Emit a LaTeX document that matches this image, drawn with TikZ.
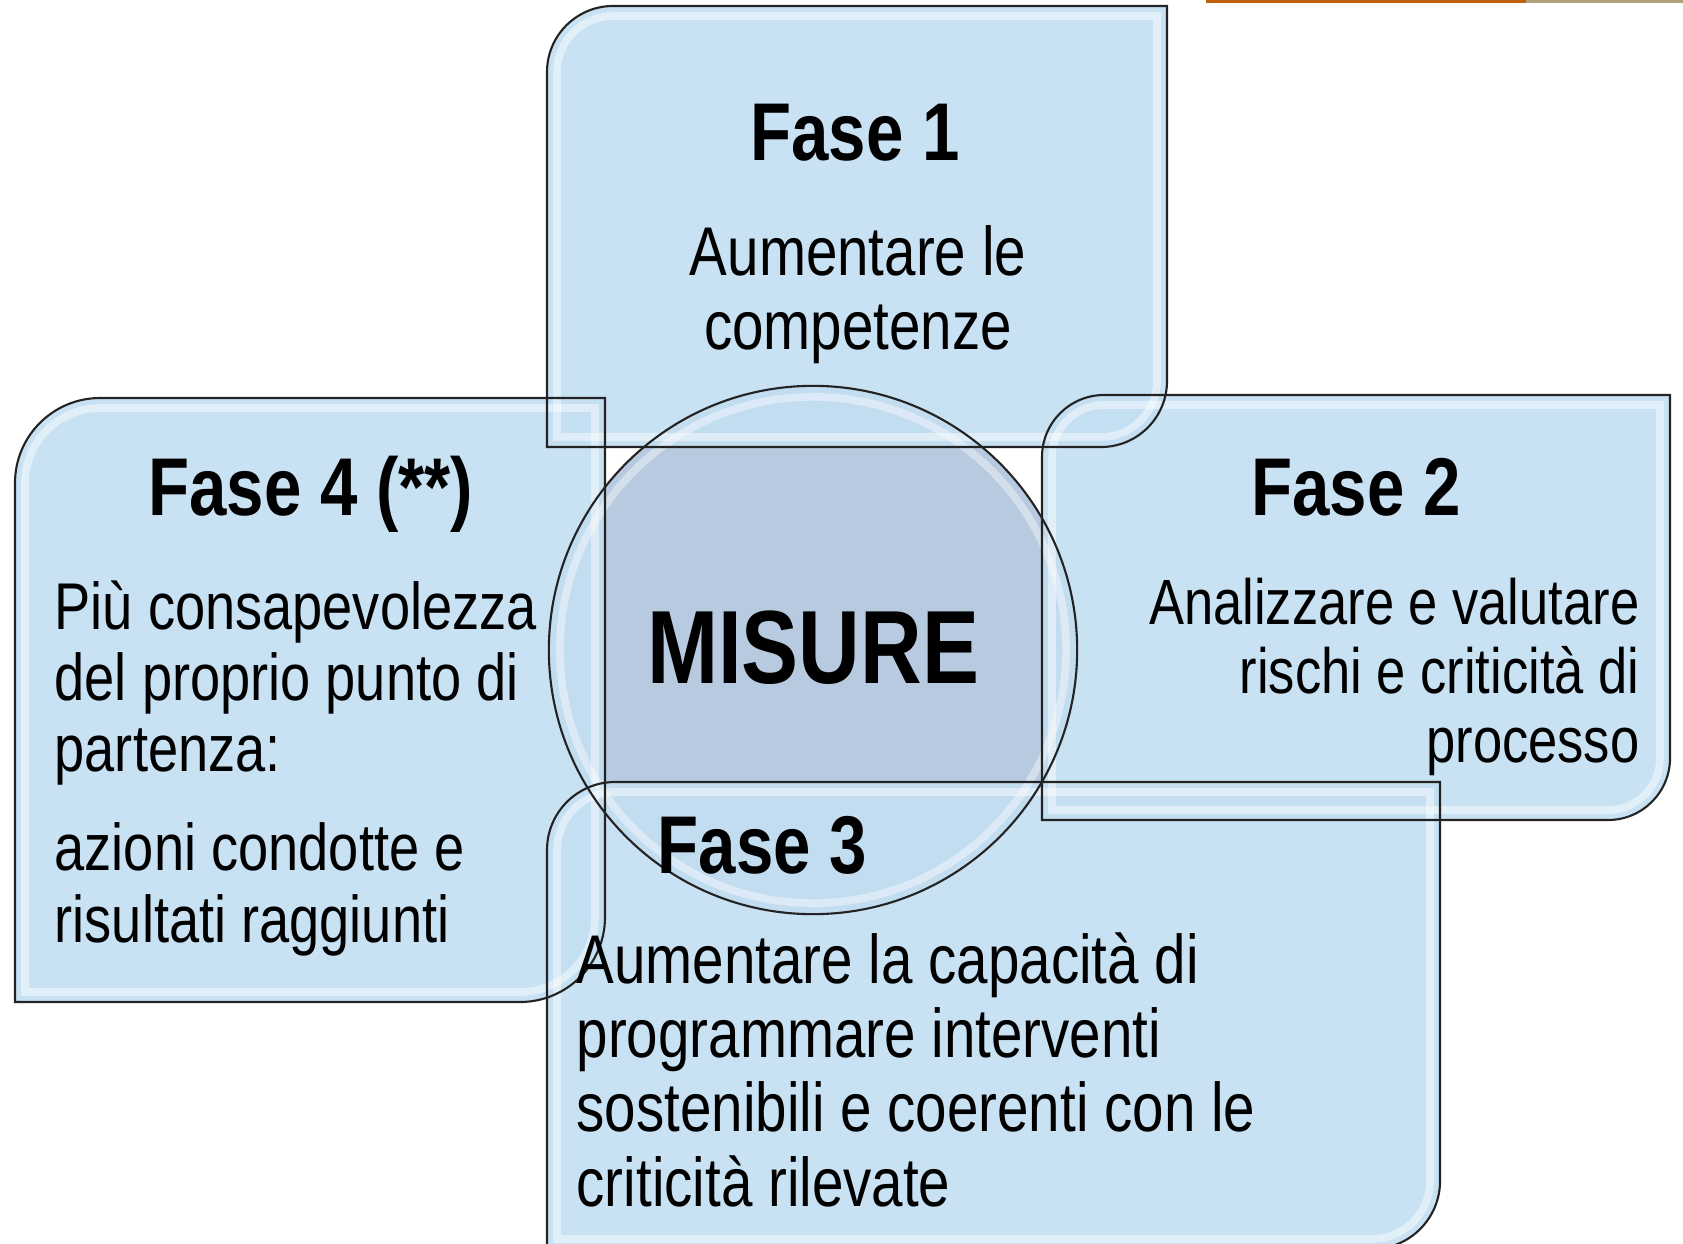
\documentclass[tikz,border=0pt]{standalone}
\usepackage{fontspec}
\setmainfont{Liberation Sans}[FakeStretch=0.82]
\usepackage{tikz}

\definecolor{panelblue}{RGB}{196,223,242}
\definecolor{hubblue}{RGB}{183,202,223}
\definecolor{rimgray}{RGB}{35,35,35}
\definecolor{barorange}{RGB}{192,98,12}
\definecolor{bartan}{RGB}{178,162,122}

% one glass panel: style, left, top, right, bottom, corner radius
% (top left and bottom right corners rounded, the other two square)
\newcommand{\panelpath}[6]{%
  \path[#1] ({#2},{#5}) -- ({#2},{(#3)+(#6)})
    .. controls ({#2},{(#3)+0.448*(#6)}) and ({(#2)+0.448*(#6)},{#3}) .. ({(#2)+(#6)},{#3})
    -- ({#4},{#3}) -- ({#4},{(#5)-(#6)})
    .. controls ({#4},{(#5)-0.448*(#6)}) and ({(#4)-0.448*(#6)},{#5}) .. ({(#4)-(#6)},{#5})
    -- cycle;}

% left/top/right/bottom/radius of the four phases
\def\panellist{547/6/1167/447/66, 1042/395/1670/820/62, 547/782/1440/1249/68, 15/398/605/1002/85}

\begin{document}
\begin{tikzpicture}[
    x=0.01cm, y=-0.01cm, % pixel grid, y going down
    panel/.style={fill=panelblue, fill opacity=0.93}, % glass panel body
    bevel/.style={draw=white, line width=2.2pt, opacity=0.45}, % inner light edge
    rim/.style={draw=rimgray, line width=0.6pt}, % thin dark outline
    title/.style={inner sep=0pt, font=\bfseries\fontsize{23.3}{28}\selectfont},
    hubtext/.style={inner sep=0pt, font=\bfseries\fontsize{29.6}{34}\selectfont}
    ]
    \useasboundingbox (0,0) rectangle (1683,1243);
    \coordinate (hubc) at (813,650);

    % centre disc sits below the panels
    \fill[hubblue] (hubc) circle[radius=2.64cm];
    \foreach \xa/\ya/\xb/\yb/\rad in \panellist {\panelpath{panel}{\xa}{\ya}{\xb}{\yb}{\rad}}
    \foreach \xa/\ya/\xb/\yb/\rad in \panellist {\panelpath{bevel}{\xa+10}{\ya+10}{\xb-10}{\yb-10}{\rad-10}}
    \draw[white, opacity=0.4, line width=2.2pt] (hubc) circle[radius=2.53cm];
    \foreach \xa/\ya/\xb/\yb/\rad in \panellist {\panelpath{rim}{\xa}{\ya}{\xb}{\yb}{\rad}}
    \draw[rim] (hubc) circle[radius=2.64cm];

    % slide bar cut off at the top
    \fill[barorange] (1206,0) rectangle (1526,3);
    \fill[bartan] (1526,0) rectangle (1683,3);

    \node (hub) [hubtext, anchor=base] at (813,683) {MISURE};

    % multi-line texts: base anchor is on the last line
    \node (f1title) [title, anchor=base] at (855,161) {Fase 1};
    \node (f1text) [inner sep=0pt, anchor=base, align=center, font=\fontsize{19.6}{20.8}\selectfont]
        at (858,349) {Aumentare le\\competenze};

    \node (f2title) [title, anchor=base] at (1356,515) {Fase 2};
    \node (f2text) [inner sep=0pt, anchor=base east, align=right, font=\fontsize{18.2}{19.6}\selectfont]
        at (1640,762) {Analizzare e valutare\\rischi e criticità di\\processo};

    \node (f3title) [title, anchor=base west] at (657,873) {Fase 3};
    \node (f3text) [inner sep=0pt, anchor=base west, align=left, font=\fontsize{19.6}{21.1}\selectfont]
        at (576,1206) {Aumentare la capacità di\\programmare interventi\\sostenibili e coerenti con le\\criticità rilevate};

    \node (f4title) [title, anchor=base] at (311,515) {Fase 4 (**)};
    \node (f4text) [inner sep=0pt, anchor=base west, align=left, font=\fontsize{18.8}{20.2}\selectfont]
        at (54,942) {Più consapevolezza\\del proprio punto di\\partenza:\\[8pt]azioni condotte e\\risultati raggiunti};
\end{tikzpicture}
\end{document}
